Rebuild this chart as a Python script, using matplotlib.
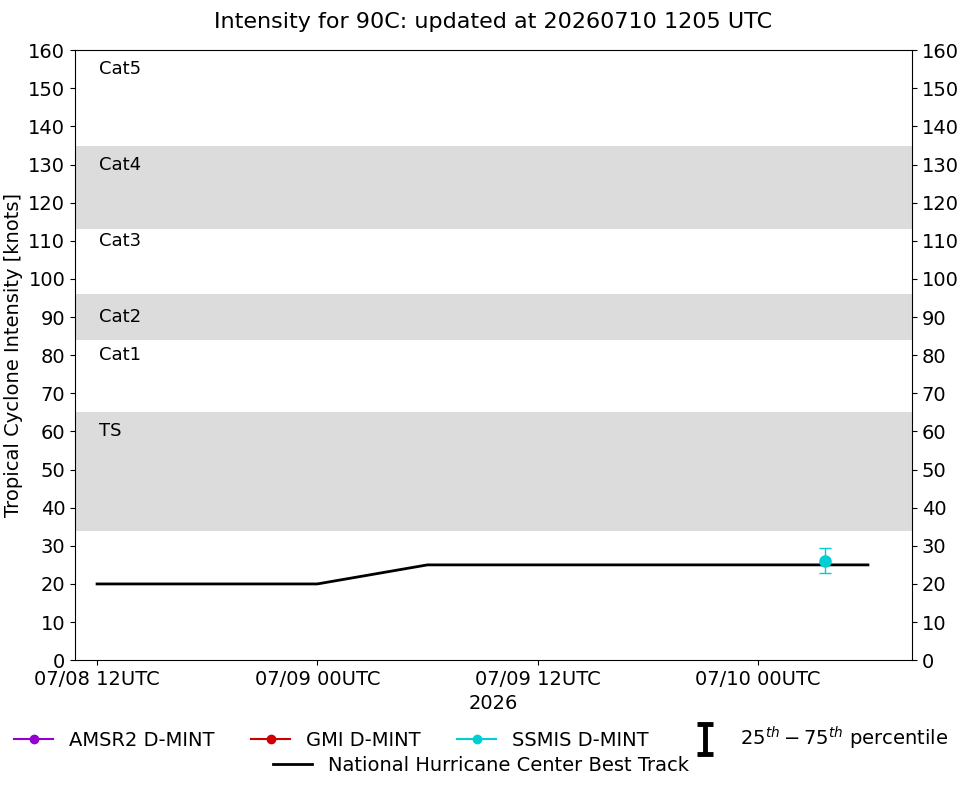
import numpy as np
import matplotlib
matplotlib.use("Agg")
import matplotlib.pyplot as plt
import matplotlib.dates as mdates
from matplotlib.lines import Line2D
from matplotlib.path import Path
from datetime import datetime

# best track
bt_times = [datetime(2026, 7, 8, 12), datetime(2026, 7, 9, 0), datetime(2026, 7, 9, 6),
            datetime(2026, 7, 9, 12), datetime(2026, 7, 10, 0), datetime(2026, 7, 10, 6)]
bt_vmax = [20, 20, 25, 25, 25, 25]

# SSMIS D-MINT estimate
ssmis_times = [datetime(2026, 7, 10, 3, 40)]
ssmis_vmax = [26]
ssmis_p25 = [23]
ssmis_p75 = [29.5]

# category bands (shaded ones) and labels
bands = [(34, 65), (84, 96), (113, 135)]
cat_labels = ["TS", "Cat1", "Cat2", "Cat3", "Cat4", "Cat5"]
cat_label_y = [60, 80, 90, 110, 130, 155]

fig = plt.figure(figsize=(9.62, 7.85), dpi=100)
ax = fig.add_axes([0.078, 0.159, 0.870, 0.777])

for lo, hi in bands:
    ax.axhspan(lo, hi, color="#dcdcdc", zorder=0, lw=0)

xmin = datetime(2026, 7, 8, 10, 48)
for lab, yy in zip(cat_labels, cat_label_y):
    ax.text(datetime(2026, 7, 8, 12, 5), yy, lab, fontsize=13, va="center", ha="left")

ax.plot(bt_times, bt_vmax, color="k", lw=2, zorder=2)

yerr = [np.array(ssmis_vmax) - np.array(ssmis_p25), np.array(ssmis_p75) - np.array(ssmis_vmax)]
ax.errorbar(ssmis_times, ssmis_vmax, yerr=yerr, fmt="o", color="darkturquoise",
            ms=8, capsize=4, elinewidth=1, zorder=3)

ax.set_xlim(xmin, datetime(2026, 7, 10, 8, 24))
ax.set_ylim(0, 160)
ax.set_yticks(np.arange(0, 161, 10))
ax.xaxis.set_major_locator(mdates.HourLocator(byhour=[0, 12]))
ax.xaxis.set_major_formatter(mdates.DateFormatter("%m/%d %HUTC"))
ax.tick_params(labelsize=14, right=True, labelright=True)
ax.set_xlabel("2026", fontsize=14)
ax.set_ylabel("Tropical Cyclone Intensity [knots]", fontsize=14)
ax.set_title("Intensity for 90C: updated at 20260710 1205 UTC", fontsize=16, pad=16)

# I-shaped marker for the percentile range
ibar = Path([(-0.5, 1), (0.5, 1), (0, 1), (0, -1), (-0.5, -1), (0.5, -1)],
            [Path.MOVETO, Path.LINETO, Path.MOVETO, Path.LINETO, Path.MOVETO, Path.LINETO])

h1 = [Line2D([], [], color="darkviolet", marker="o", ms=6, lw=1.5),
      Line2D([], [], color="#cc0000", marker="o", ms=6, lw=1.5),
      Line2D([], [], color="darkturquoise", marker="o", ms=6, lw=1.5),
      Line2D([], [], color="k", marker=ibar, ms=22, mew=3.5, ls="none")]
l1 = ["AMSR2 D-MINT", "GMI D-MINT", "SSMIS D-MINT", r"$25^{th}-75^{th}$ percentile"]
fig.legend(h1, l1, loc="center", bbox_to_anchor=(0.5, 0.059), ncol=4,
           frameon=False, fontsize=14, handlelength=2, columnspacing=1.9)
h2 = [Line2D([], [], color="k", lw=2)]
fig.legend(h2, ["National Hurricane Center Best Track"], loc="center",
           bbox_to_anchor=(0.5, 0.025), frameon=False, fontsize=14)

fig.savefig("out.png", dpi=100)
